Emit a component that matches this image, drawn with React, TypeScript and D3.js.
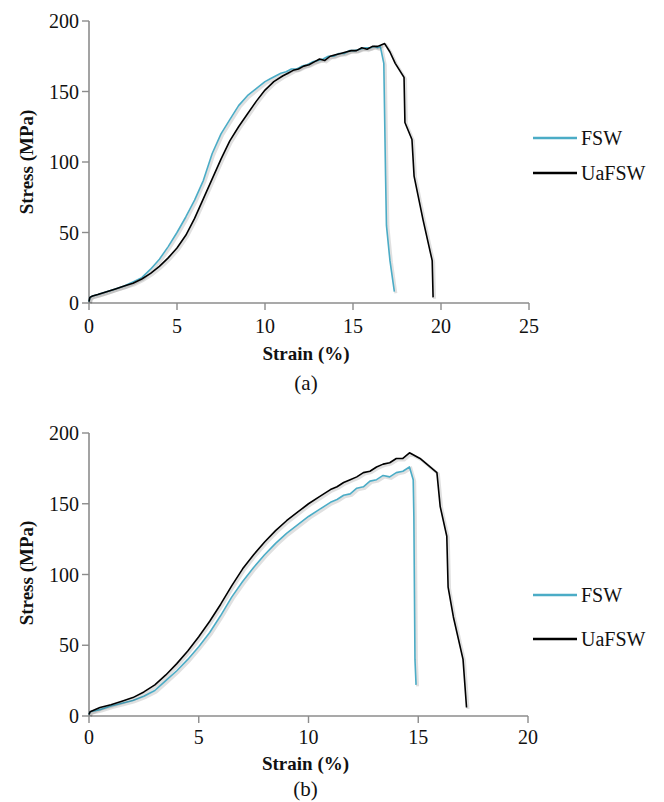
import React from "react";
import * as d3 from "d3";

// ---------- Data (a) ----------
const A_FSW_STRAIN = [0, 0.05, 0.2, 0.5, 1, 1.5, 2, 2.5, 3, 3.5, 4, 4.5, 5, 5.5, 6, 6.5, 7, 7.5, 8, 8.5, 9, 9.5, 10, 10.3, 10.6, 10.9, 11.2, 11.5, 11.8, 12.1, 12.4, 12.7, 13, 13.3, 13.6, 13.9, 14.2, 14.5, 14.8, 15.1, 15.4, 15.7, 16, 16.2, 16.4, 16.55, 16.75, 16.85, 16.9, 17.1, 17.35];
const A_FSW_STRESS = [1, 4, 5, 6, 8, 10, 12, 15, 18, 24, 31, 40, 50, 61, 73, 87, 106, 120, 130, 140, 147, 152, 157, 159, 161, 163, 164, 166, 166, 168, 169, 171, 172, 173, 175, 175, 177, 177, 179, 179, 180, 181, 181, 182, 181, 182, 170, 90, 55, 30, 8];
const A_UA_STRAIN = [0, 0.05, 0.2, 0.5, 1, 1.5, 2, 2.5, 3, 3.5, 4, 4.5, 5, 5.5, 6, 6.5, 7, 7.5, 8, 8.5, 9, 9.5, 10, 10.5, 11, 11.3, 11.6, 11.9, 12.2, 12.5, 12.8, 13.1, 13.4, 13.7, 14, 14.3, 14.6, 14.9, 15.2, 15.5, 15.8, 16.1, 16.4, 16.6, 16.8, 17.1, 17.4, 17.9, 17.95, 18.35, 18.47, 18.98, 19.5, 19.55];
const A_UA_STRESS = [1, 4, 5, 6, 8, 10, 12, 14, 17, 21, 26, 32, 39, 48, 60, 74, 88, 102, 115, 125, 134, 143, 151, 157, 161, 163, 165, 166, 168, 169, 171, 173, 172, 175, 176, 177, 178, 179, 179, 181, 180, 182, 182, 183, 184, 178, 170, 160, 128, 116, 90, 59, 30, 4];

// ---------- Data (b) ----------
const B_FSW_STRAIN = [0, 0.05, 0.5, 1, 1.5, 2, 2.5, 3, 3.5, 4, 4.5, 5, 5.5, 6, 6.5, 7, 7.5, 8, 8.5, 9, 9.5, 10, 10.5, 11, 11.3, 11.6, 11.9, 12.2, 12.5, 12.8, 13.1, 13.4, 13.7, 14, 14.3, 14.6, 14.77, 14.8, 14.85, 14.9];
const B_FSW_STRESS = [1, 3, 4.5, 7, 9, 11, 14, 18, 25, 32, 40, 49, 59, 71, 84, 95, 105, 114, 122, 129, 135, 141, 146, 151, 153, 156, 157, 161, 162, 166, 167, 170, 169, 172, 173, 176, 167, 141, 40, 22];
const B_UA_STRAIN = [0, 0.05, 0.5, 1, 1.5, 2, 2.5, 3, 3.5, 4, 4.5, 5, 5.5, 6, 6.5, 7, 7.5, 8, 8.5, 9, 9.5, 10, 10.5, 11, 11.3, 11.6, 11.9, 12.2, 12.5, 12.8, 13.1, 13.4, 13.7, 14, 14.3, 14.6, 15.08, 15.85, 16.0, 16.3, 16.36, 16.6, 17.04, 17.2];
const B_UA_STRESS = [1, 3, 6, 8, 10.5, 13, 17, 22, 29, 37, 46, 56, 67, 79, 92, 104, 114, 123, 131, 138, 144, 150, 155, 160, 162, 165, 167, 169, 172, 173, 176, 178, 179, 182, 182, 186, 182, 172, 148, 127, 91, 70, 40, 6];

const SERIES_NAMES = ["FSW", "UaFSW"];
const SERIES_COLORS = ["#4bacc6", "#000000"];
const Y_TICKS = [0, 50, 100, 150, 200];
const A_X_TICKS = [0, 5, 10, 15, 20, 25];
const B_X_TICKS = [0, 5, 10, 15, 20];

const SERIF = "'Liberation Serif', 'Times New Roman', serif";
const AXIS_COLOR = "#8c8c8c";

type PanelProps = {
  top: number;
  bottom: number;
  left: number;
  right: number;
  xMax: number;
  xTicks: number[];
  series: { x: number[]; y: number[] }[];
  legendY: number[];
  caption: string;
  xTickY: number;
  xLabelY: number;
  captionY: number;
  yLabelY: number;
};

function Panel(p: PanelProps) {
  const x = d3.scaleLinear().domain([0, p.xMax]).range([p.left, p.right]);
  const y = d3.scaleLinear().domain([0, 200]).range([p.bottom, p.top]);
  const line = d3
    .line<[number, number]>()
    .x((d) => x(d[0]))
    .y((d) => y(d[1]));
  const cx = (p.left + p.right) / 2 - 3;
  return (
    <g>
      {/* axes */}
      <line x1={p.left} x2={p.left} y1={p.top} y2={p.bottom} stroke={AXIS_COLOR} strokeWidth={1.6} />
      <line x1={p.left} x2={p.right} y1={p.bottom} y2={p.bottom} stroke={AXIS_COLOR} strokeWidth={1.6} />
      {Y_TICKS.map((t) => (
        <g key={"y" + t}>
          <line x1={p.left - 7} x2={p.left} y1={y(t)} y2={y(t)} stroke={AXIS_COLOR} strokeWidth={1.4} />
          <text x={p.left - 10} y={y(t)} dy="0.35em" textAnchor="end" fontFamily={SERIF} fontSize={20} fill="#111">
            {t}
          </text>
        </g>
      ))}
      {p.xTicks.map((t) => (
        <g key={"x" + t}>
          <line x1={x(t)} x2={x(t)} y1={p.bottom} y2={p.bottom + 7} stroke={AXIS_COLOR} strokeWidth={1.4} />
          <text x={x(t)} y={p.xTickY} textAnchor="middle" fontFamily={SERIF} fontSize={20} fill="#111">
            {t}
          </text>
        </g>
      ))}
      {/* curves */}
      {p.series.map((s, i) => {
        const pts = s.x.map((v, k) => [v, s.y[k]] as [number, number]);
        return (
          <g key={"s" + i}>
            <path d={line(pts) || ""} fill="none" stroke="#000" strokeOpacity={0.12} strokeWidth={3} transform="translate(1.5,1.5)" />
            <path d={line(pts) || ""} fill="none" stroke={SERIES_COLORS[i]} strokeWidth={1.6} strokeLinejoin="round" />
          </g>
        );
      })}
      {/* labels */}
      <text x={cx} y={p.xLabelY} textAnchor="middle" fontFamily={SERIF} fontWeight="bold" fontSize={19} fill="#111">
        Strain (%)
      </text>
      <text x={cx} y={p.captionY} textAnchor="middle" fontFamily={SERIF} fontSize={21} fill="#111">
        {p.caption}
      </text>
      <text
        transform={`translate(33,${p.yLabelY}) rotate(-90)`}
        textAnchor="middle"
        fontFamily={SERIF}
        fontWeight="bold"
        fontSize={19}
        fill="#111"
      >
        Stress (MPa)
      </text>
      {/* legend */}
      {SERIES_NAMES.map((n, i) => (
        <g key={"l" + n}>
          <line x1={533} x2={577} y1={p.legendY[i]} y2={p.legendY[i]} stroke={SERIES_COLORS[i]} strokeWidth={2.5} />
          <text x={581} y={p.legendY[i]} dy="0.35em" fontFamily={SERIF} fontSize={20} fill="#111">
            {n}
          </text>
        </g>
      ))}
    </g>
  );
}

export default function App() {
  return (
    <svg
      width={664}
      height={802}
      style={{ position: "absolute", left: 0, top: 0, background: "#fff" }}
    >
      <rect width={664} height={802} fill="#fff" />
      <Panel
        top={21}
        bottom={303}
        left={89}
        right={529}
        xMax={25}
        xTicks={A_X_TICKS}
        series={[
          { x: A_FSW_STRAIN, y: A_FSW_STRESS },
          { x: A_UA_STRAIN, y: A_UA_STRESS },
        ]}
        legendY={[138, 173]}
        caption="(a)"
        xTickY={333}
        xLabelY={360}
        captionY={390}
        yLabelY={162}
      />
      <Panel
        top={433}
        bottom={716}
        left={89}
        right={528}
        xMax={20}
        xTicks={B_X_TICKS}
        series={[
          { x: B_FSW_STRAIN, y: B_FSW_STRESS },
          { x: B_UA_STRAIN, y: B_UA_STRESS },
        ]}
        legendY={[595, 639]}
        caption="(b)"
        xTickY={744}
        xLabelY={770}
        captionY={796}
        yLabelY={573}
      />
    </svg>
  );
}
